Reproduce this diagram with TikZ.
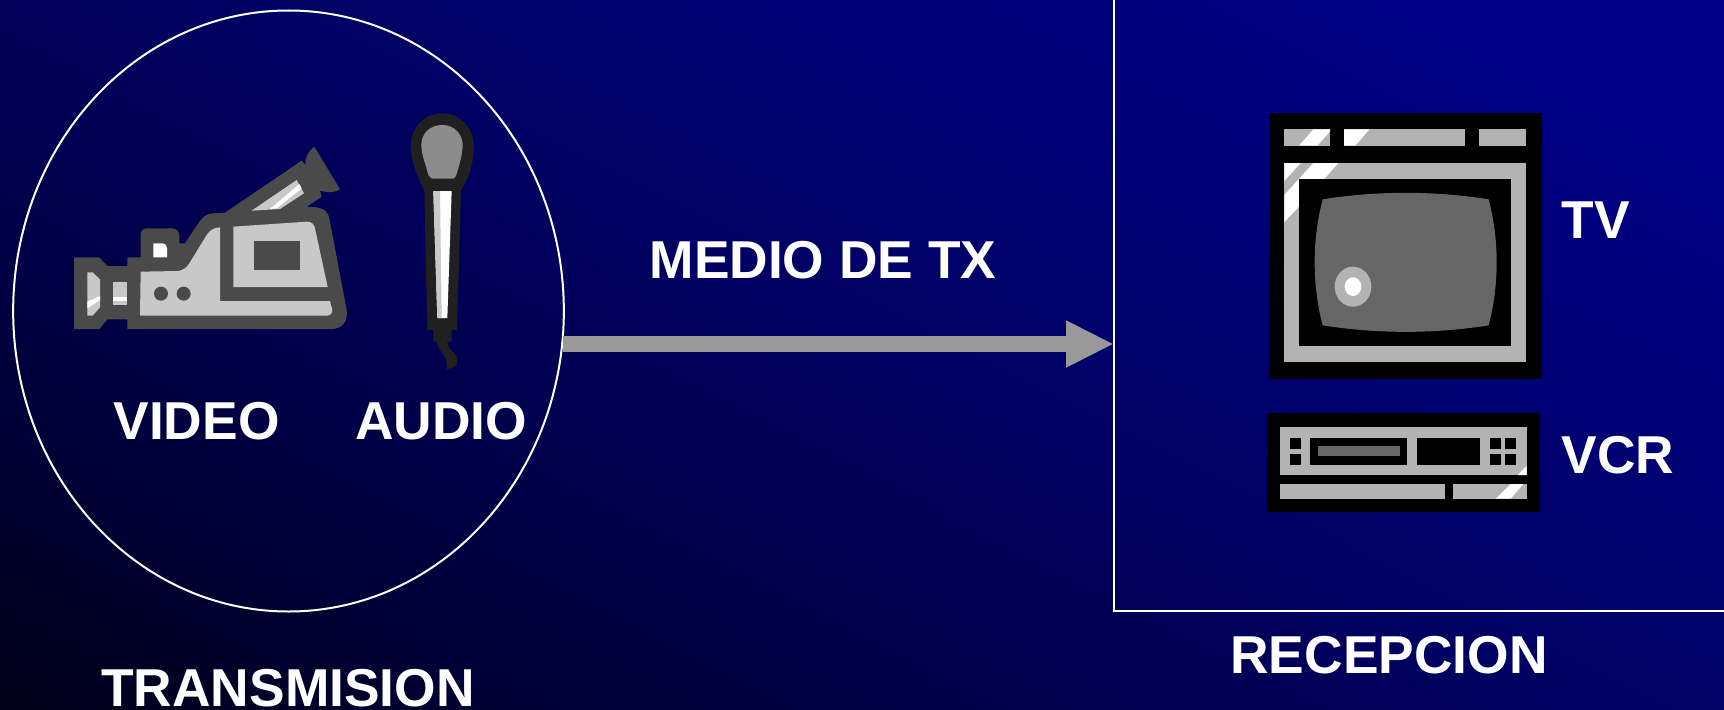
\documentclass[tikz,border=0pt]{standalone}
\usepackage{fontspec}
\setmainfont{Liberation Sans}
\usetikzlibrary{shapes.geometric, positioning, arrows.meta}

\definecolor{camdark}{RGB}{74,74,74}
\definecolor{camlight}{RGB}{200,200,200}
\definecolor{micdark}{RGB}{32,32,32}
\definecolor{micgrey}{RGB}{140,140,140}
\definecolor{setlight}{RGB}{179,179,179}
\definecolor{setgrey}{RGB}{102,102,102}
\definecolor{linkgrey}{RGB}{153,153,153}

\pgfdeclareverticalshading{bgramp}{100bp}{rgb(0bp)=(0,0,0.086); rgb(37.5bp)=(0,0,0.086); rgb(42.27bp)=(0,0,0.22); rgb(45.53bp)=(0,0,0.29); rgb(48.79bp)=(0,0,0.353); rgb(51.2bp)=(0,0,0.40); rgb(54.75bp)=(0,0,0.455); rgb(59.76bp)=(0,0,0.52); rgb(100bp)=(0,0,0.525)}

\tikzset{
  lbl/.style={text=white, font=\bfseries\fontsize{40}{40}\selectfont, inner sep=0pt},
  zone/.style={draw=white, line width=1.5pt, inner sep=0pt},
  icon/.style={shift={(#1)}, x=0.25pt, y=-0.25pt},
}

\begin{document}
\begin{tikzpicture}[x=0.75pt, y=-0.75pt]
\useasboundingbox (0,0) rectangle (1724,710);
\begin{scope}
\clip (0,0) rectangle (1724,710);
\shade[shading=bgramp, shading angle=-27] (-566,-1073) rectangle (2290,1783);
\end{scope}

\node (tx) at (288.5,311) [zone, ellipse, minimum width=413pt, minimum height=450.75pt] {};
\node (rx) at (1424,300.5) [zone, rectangle, minimum width=465pt, minimum height=465.75pt] {};
\coordinate (txout) at (563,344);
\coordinate (rxin) at (1114,344);
\draw[linkgrey, line width=12pt, -{Triangle[length=36pt, width=32.7pt]}] (txout) -- (rxin);

\node (medio) at (823,260) [lbl] {MEDIO DE TX};
\node (video) at (196.5,421) [lbl] {VIDEO};
\node (audio) at (441,421) [lbl] {AUDIO};
\node (tv) at (1596,220) [lbl] {TV};
\node (vcr) at (1618,455) [lbl] {VCR};
\node (trans) at (288,688) [lbl] {TRANSMISION};
\node (recep) at (1389,655) [lbl] {RECEPCION};

% camera
\begin{scope}[icon={50,100}]
\fill[camdark] (72,472) -- (148,472) -- (172,498) -- (232,498) -- (232,472) -- (272,472) -- (272,405)
  .. controls (272,392) and (280,385) .. (292,385) -- (365,385) .. controls (380,385) and (388,395) .. (388,408)
  -- (388,430) -- (405,430) -- (445,370) .. controls (458,350) and (470,340) .. (490,340) -- (525,338)
  -- (755,182) -- (767,195) .. controls (762,175) and (775,155) .. (793,140) -- (870,268)
  .. controls (850,280) and (830,278) .. (810,272)
  -- (815,290) -- (770,320) -- (800,322) .. controls (820,325) and (835,335) .. (838,355)
  -- (890,630) .. controls (895,665) and (875,687) .. (845,687) -- (232,687) -- (232,658) -- (172,658)
  -- (148,687) -- (72,687) -- cycle;
\fill[camlight] (112,517) -- (128,517) -- (150,538) -- (150,622) -- (128,647) -- (112,647) -- cycle;
\fill[white] (112,605) -- (150,588) -- (150,600) -- (112,625) -- cycle;
\fill[camlight] (188,547) rectangle (232,616);
\fill[white] (188,590) rectangle (232,603);
\fill[camlight] (272,515) -- (385,513) .. controls (400,510) and (410,503) .. (418,490) -- (470,405)
  .. controls (480,390) and (490,384) .. (510,382) -- (510,603) -- (840,603) -- (847,630)
  .. controls (847,640) and (840,647) .. (830,647) -- (270,647) -- cycle;
\fill[camlight] (550,380) -- (770,365) .. controls (785,365) and (792,372) .. (795,385) -- (833,561) -- (550,561) -- cycle;
\fill[camdark] (612,423) rectangle (750,510);
\fill[camdark] (333,581) circle [x radius=21, y radius=21];
\fill[camdark] (401,581) circle [x radius=21, y radius=21];
\fill[white] (310,430) -- (338,430) .. controls (346,430) and (351,436) .. (351,445) -- (351,472) -- (310,472) -- cycle;
\fill[camlight] (605,332) -- (740,240) -- (762,280) -- (690,327) -- cycle;
\fill[white] (660,327) -- (748,252) -- (755,265) -- (680,325) -- cycle;
\end{scope}

% microphone
\begin{scope}[icon={390,100}]
\fill[micdark] (103,270) -- (112,690) -- (130,690) -- (130,725) -- (140,725)
  .. controls (140,745) and (168,765) .. (170,790) -- (170,808) -- (190,802)
  .. controls (205,795) and (205,775) .. (195,762) .. controls (185,750) and (172,745) .. (172,725)
  -- (185,725) -- (185,690) -- (201,690) -- (213,270)
  .. controls (235,240) and (252,185) .. (252,140) .. controls (252,85) and (210,40) .. (157,40)
  .. controls (105,40) and (62,80) .. (62,140) .. controls (62,180) and (85,240) .. (103,270) -- cycle;
\fill[micgrey] (157,75) .. controls (195,75) and (218,105) .. (218,135) .. controls (218,165) and (205,205) .. (198,228)
  -- (190,236) -- (125,236) -- (115,225) .. controls (108,195) and (94,165) .. (94,135)
  .. controls (94,100) and (120,75) .. (157,75) -- cycle;
\fill[white] (130,273) -- (185,273) -- (172,654) -- (142,654) -- cycle;
\fill[camlight] (130,273) -- (150,273) -- (155,654) -- (142,654) -- cycle;
\end{scope}

% tv set
\begin{scope}[icon={1250,100}]
\fill[black] (56,40) rectangle (875,836);
\fill[setlight] (103,88) rectangle (240,137);
\fill[setlight] (282,88) rectangle (645,137);
\fill[setlight] (687,88) rectangle (828,137);
\fill[setlight] (103,189) rectangle (828,787);
\fill[white] (147,137) -- (190,88) -- (240,88) -- (240,95) -- (202,137) -- cycle;
\fill[white] (282,88) -- (358,88) -- (316,137) -- (282,137) -- cycle;
\fill[white] (103,189) -- (152,189) -- (103,243) -- cycle;
\fill[white] (190,189) -- (265,189) -- (222,238) -- (147,320) -- (103,366) -- (103,285) -- cycle;
\fill[black] (147,238) rectangle (784,737);
\fill[setgrey] (218,298) .. controls (380,272) and (555,272) .. (716,298)
  .. controls (748,420) and (748,555) .. (716,676) .. controls (555,702) and (380,702) .. (218,676)
  .. controls (186,555) and (186,420) .. (218,298) -- cycle;
\fill[setlight] (309,560) circle [x radius=55, y radius=60];
\fill[white] (309,560) circle [x radius=25, y radius=28];
\end{scope}

% vcr
\begin{scope}[icon={1250,400}]
\fill[black] (50,40) rectangle (870,335);
\fill[setlight] (89,82) rectangle (830,225);
\fill[black] (120,114) rectangle (154,148);
\fill[black] (120,162) rectangle (154,195);
\fill[black] (181,113) rectangle (472,194);
\fill[setgrey] (205,138) rectangle (449,168);
\fill[black] (500,113) rectangle (690,194);
\fill[black] (720,114) rectangle (753,148);
\fill[black] (766,114) rectangle (799,148);
\fill[black] (720,162) rectangle (753,195);
\fill[black] (766,162) rectangle (799,195);
\fill[white] (830,197) -- (830,225) -- (803,225) -- cycle;
\fill[setlight] (89,252) rectangle (585,296);
\fill[setlight] (609,252) rectangle (830,296);
\fill[white] (738,296) -- (782,252) -- (820,252) -- (782,296) -- cycle;
\end{scope}
\end{tikzpicture}
\end{document}
